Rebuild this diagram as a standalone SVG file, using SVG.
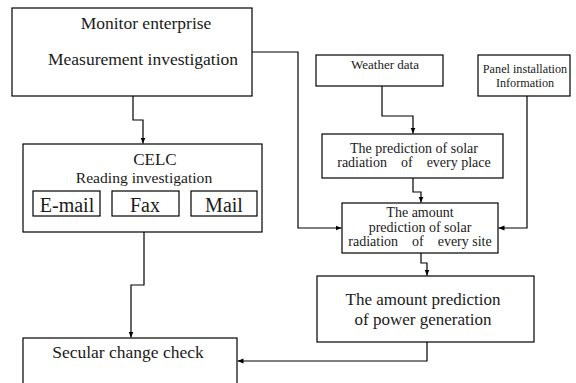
<svg xmlns="http://www.w3.org/2000/svg" width="576" height="383" viewBox="0 0 576 383" font-family="'Liberation Serif', 'Times New Roman', 'DejaVu Serif', serif">
<defs>
<marker id="ah" viewBox="0 0 6 6" refX="6" refY="3" markerWidth="6" markerHeight="6" markerUnits="userSpaceOnUse" orient="auto">
<path d="M0,0.5 L6,3 L0,5.5 Z" fill="#000"/>
</marker>
<style>
.box{fill:#fff;stroke:#000;stroke-width:1.2}
.ln{fill:none;stroke:#000;stroke-width:1.2;marker-end:url(#ah)}
text{fill:#1a1a1a;text-anchor:middle}
.t175{font-size:17.5px}
.t16{font-size:15.6px}
.t17{font-size:17px}
.t20{font-size:20px}
.t14{font-size:14px}
.t13{font-size:13px}
.t12{font-size:12.2px}
</style>
</defs>
<rect width="576" height="383" fill="#fff"/>
<g id="connectors">
<path class="ln" d="M133,96 V120 H143 V143.5"/>
<path class="ln" d="M252,52 H298 V228 H341.5"/>
<path class="ln" d="M382,86 V116 H413 V133.5"/>
<path class="ln" d="M527,96 V228 H498.5"/>
<path class="ln" d="M413,178 V192 H421 V202.5"/>
<path class="ln" d="M421,253 V263 H427 V275.5"/>
<path class="ln" d="M144,232 V285 H131 V337.5"/>
<path class="ln" d="M427,342 V361 H237.5"/>
</g>
<g id="monitor">
<rect class="box" x="12" y="8" width="240" height="88"/>
<text class="t175" x="146" y="29">Monitor enterprise</text>
<text class="t175" x="143" y="65">Measurement investigation</text>
</g>
<g id="celc">
<rect class="box" x="23" y="144" width="239" height="88"/>
<text class="t17" x="155" y="165">CELC</text>
<text class="t16" x="144" y="183">Reading investigation</text>
<g id="email"><rect class="box" x="33" y="191" width="67" height="25"/><text class="t20" x="67" y="212">E-mail</text></g>
<g id="fax"><rect class="box" x="112" y="191" width="67" height="25"/><text class="t20" x="145" y="212">Fax</text></g>
<g id="mail"><rect class="box" x="191" y="191" width="66" height="25"/><text class="t20" x="224" y="212">Mail</text></g>
</g>
<g id="secular">
<rect class="box" x="23" y="338" width="214" height="60"/>
<text class="t175" x="128" y="358">Secular change check</text>
</g>
<g id="weather">
<rect class="box" x="316" y="55" width="127" height="31"/>
<text class="t13" x="385" y="69">Weather data</text>
</g>
<g id="panel">
<rect class="box" x="478" y="55" width="92" height="41"/>
<text class="t12" x="525" y="73">Panel installation</text>
<text class="t12" x="525" y="87">Information</text>
</g>
<g id="solarplace">
<rect class="box" x="322" y="134" width="181" height="44"/>
<text class="t14" x="414" y="153">The prediction of solar</text>
<text class="t14" x="414" y="167" xml:space="preserve">radiation    of    every place</text>
</g>
<g id="solarsite">
<rect class="box" x="342" y="203" width="156" height="50"/>
<text class="t14" x="420" y="217">The amount</text>
<text class="t14" x="420" y="232">prediction of solar</text>
<text class="t14" x="420" y="246" xml:space="preserve">radiation    of    every site</text>
</g>
<g id="power">
<rect class="box" x="317" y="276" width="217" height="66"/>
<text class="t17" x="423" y="305">The amount prediction</text>
<text class="t17" x="423" y="325">of power generation</text>
</g>
</svg>
